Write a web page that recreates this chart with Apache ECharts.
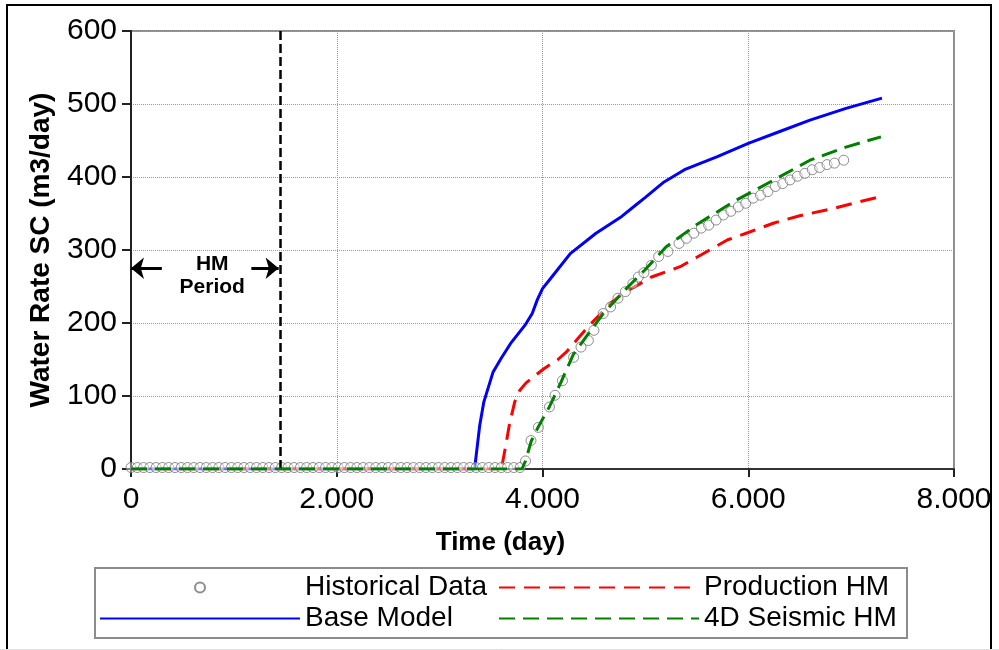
<!DOCTYPE html>
<html>
<head>
<meta charset="utf-8">
<script src="https://cdn.jsdelivr.net/npm/echarts@6/dist/echarts.min.js"></script>
<style>
  html, body { margin: 0; padding: 0; background: #fff; }
  #chart { width: 999px; height: 650px; }
</style>
</head>
<body>
<div id="chart"></div>
<script>
// Water rate (m3/day) against time (day) for the observed well data and three simulation runs
const xTicks = [0, 2000, 4000, 6000, 8000];
const yTicks = [0, 100, 200, 300, 400, 500, 600];

const histDays = [0, 61, 122, 183, 244, 305, 366, 427, 488, 549, 610, 671, 732, 793, 854, 915, 976, 1037,
  1098, 1159, 1220, 1281, 1342, 1403, 1464, 1525, 1586, 1647, 1708, 1769, 1830, 1891, 1952, 2013, 2074,
  2135, 2196, 2257, 2318, 2379, 2440, 2501, 2562, 2623, 2684, 2745, 2806, 2867, 2928, 2989, 3050, 3111,
  3172, 3233, 3294, 3355, 3416, 3477, 3538, 3599, 3660, 3721, 3782,
  3835, 3888, 3960, 4068, 4122, 4194, 4302, 4374, 4446, 4500, 4590, 4662, 4734, 4806, 4878, 4932, 4986,
  5058, 5129, 5219, 5327, 5399, 5471, 5543, 5615, 5687, 5759, 5831, 5903, 5975, 6047, 6119, 6191, 6263,
  6335, 6406, 6478, 6550, 6622, 6694, 6766, 6838, 6928];
const histRate = [2, 2, 2, 2, 2, 2, 2, 2, 2, 2, 2, 2, 2, 2, 2, 2, 2, 2,
  2, 2, 2, 2, 2, 2, 2, 2, 2, 2, 2, 2, 2, 2, 2, 2, 2,
  2, 2, 2, 2, 2, 2, 2, 2, 2, 2, 2, 2, 2, 2, 2, 2, 2,
  2, 2, 2, 2, 2, 2, 2, 2, 2, 2, 2,
  11, 39, 57, 85, 101, 121, 153, 167, 176, 190, 213, 222, 234, 243, 254, 263, 269,
  279, 291, 298, 309, 316, 323, 330, 334, 341, 348, 353, 359, 364, 371, 375, 380, 387,
  391, 396, 401, 405, 410, 413, 417, 419, 423];

const baseDays = [0, 3340, 3390, 3430, 3520, 3600, 3690, 3830, 3900, 3950, 4000, 4090, 4270, 4520, 4770,
  4910, 5000, 5170, 5380, 5700, 6000, 6300, 6600, 6950, 7300];
const baseRate = [0, 0, 60, 92, 133, 152, 172, 197, 213, 232, 247, 263, 295, 323, 346,
  362, 372, 392, 410, 428, 446, 462, 478, 494, 508];

const prodDays = [0, 3600, 3640, 3680, 3730, 3780, 3840, 3920, 4010, 4150, 4230, 4340, 4450, 4560, 4660,
  4760, 4850, 4950, 5060, 5200, 5350, 5500, 5650, 5800, 6000, 6250, 6500, 6800, 7050, 7280];
const prodRate = [0, 0, 30, 62, 92, 108, 118, 127, 137, 150, 160, 178, 196, 212, 227,
  238, 246, 254, 263, 270, 278, 290, 302, 314, 324, 337, 347, 356, 365, 373];

const seisDays = [0, 3800, 3835, 3890, 3960, 4070, 4180, 4300, 4450, 4590, 4800, 4990, 5200, 5500, 5880,
  6250, 6600, 6950, 7290];
const seisRate = [0, 0, 11, 38, 58, 86, 119, 157, 186, 213, 245, 272, 304, 335, 368,
  396, 423, 441, 455];

// History-match window
const hmEndDay = 1450;
const hmArrowLevel = 275;
const hmLabel = 'HM\nPeriod';

const pairs = (xs, ys) => xs.map((x, i) => [x, ys[i]]);
const dotted = v => String(v).replace(/\B(?=(\d{3})+(?!\d))/g, '.');

const FONT = '"Liberation Sans", Arial, sans-serif';
// line entries in the legend show only their stroke, no centre marker
const lineOnly = { color: 'rgba(0,0,0,0)', borderColor: 'rgba(0,0,0,0)', borderWidth: 0, opacity: 0 };

const chart = echarts.init(document.getElementById('chart'), null, { renderer: 'canvas' });

chart.setOption({
  backgroundColor: '#ffffff',
  animation: false,
  textStyle: { fontFamily: FONT },
  grid: {
    left: 131, right: 45, top: 31, bottom: 181,
    show: true, borderColor: '#8c8c8c', borderWidth: 2, backgroundColor: 'transparent'
  },
  xAxis: {
    type: 'value', min: xTicks[0], max: xTicks[xTicks.length - 1], interval: xTicks[1] - xTicks[0],
    name: 'Time (day)', nameLocation: 'middle', nameGap: 61,
    nameTextStyle: { fontFamily: FONT, fontSize: 26, fontWeight: 'bold', color: '#000', padding: [0, 84, 0, 0] },
    axisLine: { show: true, onZero: false, lineStyle: { color: '#333', width: 2 } },
    axisTick: { show: true, length: 8, lineStyle: { color: '#222', width: 2 } },
    axisLabel: { fontFamily: FONT, fontSize: 30, color: '#000', margin: 16, formatter: dotted },
    splitLine: { show: true, lineStyle: { color: '#9a9a9a', type: 'dotted', width: 1 } }
  },
  yAxis: {
    type: 'value', min: yTicks[0], max: yTicks[yTicks.length - 1], interval: yTicks[1] - yTicks[0],
    name: 'Water Rate SC (m3/day)', nameLocation: 'middle', nameGap: 76,
    nameTextStyle: { fontFamily: FONT, fontSize: 28, fontWeight: 'bold', color: '#000' },
    axisLine: { show: true, lineStyle: { color: '#222', width: 2 } },
    axisTick: { show: true, length: 9, lineStyle: { color: '#222', width: 2 } },
    axisLabel: { fontFamily: FONT, fontSize: 30, color: '#000', margin: 14 },
    splitLine: { show: true, lineStyle: { color: '#9a9a9a', type: 'dotted', width: 1 } }
  },
  legend: {
    data: [
      { name: 'Historical Data' },
      { name: 'Production HM', itemStyle: lineOnly },
      { name: 'Base Model', itemStyle: lineOnly },
      { name: '4D Seismic HM', itemStyle: lineOnly }
    ],
    left: 95, top: 568, width: 800,
    orient: 'horizontal', itemWidth: 200, itemHeight: 10, itemGap: 0,
    padding: [4, 10, 4, 4],
    borderColor: '#8c8c8c', borderWidth: 2, backgroundColor: '#fff',
    textStyle: { fontFamily: FONT, fontSize: 28, color: '#000', width: 193, lineHeight: 31 }
  },
  series: [
    {
      name: 'Base Model', type: 'line', data: pairs(baseDays, baseRate),
      symbol: 'none', z: 2,
      lineStyle: { color: '#0000ff', width: 3 }, itemStyle: { color: '#0000ff' },
      markLine: {
        silent: true, symbol: ['none', 'none'], animation: false,
        label: { show: false },
        lineStyle: { color: '#000', width: 2.5, type: [9, 4] },
        data: [{ xAxis: hmEndDay }]
      }
    },
    {
      name: 'Production HM', type: 'line', data: pairs(prodDays, prodRate),
      symbol: 'none', z: 3,
      lineStyle: { color: '#ff0000', width: 3, type: [16, 9] }, itemStyle: { color: '#ff0000' }
    },
    {
      name: 'Historical Data', type: 'scatter', data: pairs(histDays, histRate),
      symbol: 'circle', symbolSize: 10, z: 4,
      itemStyle: { color: 'rgba(255,255,255,0.55)', borderColor: '#707070', borderWidth: 1 }
    },
    {
      name: '4D Seismic HM', type: 'line', data: pairs(seisDays, seisRate),
      symbol: 'none', z: 5,
      lineStyle: { color: '#008000', width: 3, type: [16, 8] }, itemStyle: { color: '#008000' }
    },
    {
      // annotation of the history-match window
      name: 'hm-window', type: 'line', data: [], silent: true, z: 6,
      markLine: {
        silent: true, animation: false,
        symbol: ['none', 'arrow'], symbolSize: [16, 13],
        label: { show: false },
        lineStyle: { color: '#000', width: 3, type: 'solid' },
        data: [
          [{ coord: [300, hmArrowLevel] }, { coord: [0, hmArrowLevel] }],
          [{ coord: [1170, hmArrowLevel] }, { coord: [hmEndDay - 15, hmArrowLevel] }]
        ]
      },
      markPoint: {
        silent: true, animation: false, symbol: 'circle', symbolSize: 0,
        label: {
          show: true, position: 'inside', formatter: hmLabel,
          fontFamily: FONT, fontSize: 21, fontWeight: 'bold', lineHeight: 23, color: '#000', align: 'center'
        },
        data: [{ coord: [790, 265] }]
      }
    }
  ],
  graphic: [
    { type: 'rect', z: 100, silent: true, shape: { x: 992, y: 0, width: 10, height: 650 }, style: { fill: '#fff' } },
    { type: 'rect', z: 101, silent: true, shape: { x: 7, y: 5, width: 984, height: 660 },
      style: { fill: 'none', stroke: '#000', lineWidth: 2 } },
    { type: 'line', z: 101, silent: true, shape: { x1: 0, y1: 649.5, x2: 999, y2: 649.5 },
      style: { stroke: '#e0e0e0', lineWidth: 1 } }
  ]
});
</script>
</body>
</html>
